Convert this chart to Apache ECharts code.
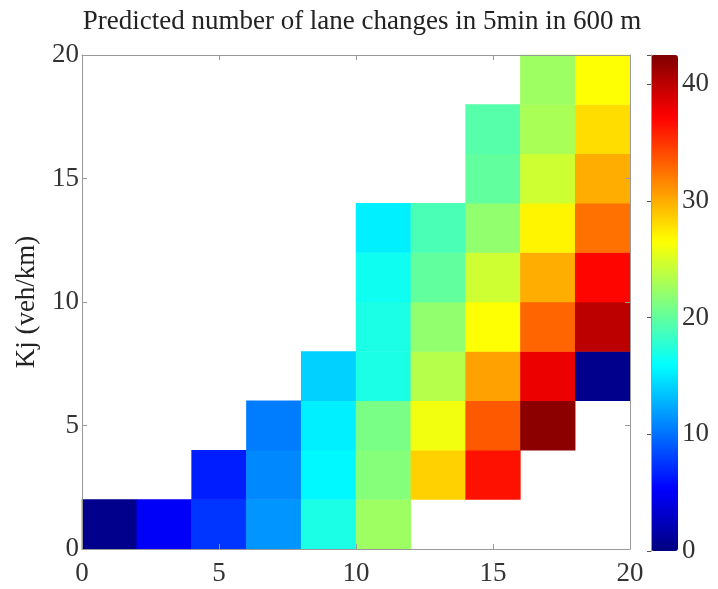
<!DOCTYPE html>
<html>
<head>
<meta charset="utf-8">
<script src="https://cdn.jsdelivr.net/npm/echarts@6/dist/echarts.min.js"></script>
<style>
  html, body { margin: 0; padding: 0; background: #fff; }
  #main { width: 718px; height: 589px; }
</style>
</head>
<body>
<div id="main"></div>
<script>
// bins of 2 units on each axis (0-2, 2-4, ... 18-20)
var xBins = ['0-2', '2-4', '4-6', '6-8', '8-10', '10-12', '12-14', '14-16', '16-18', '18-20'];
var yBins = ['0-2', '2-4', '4-6', '6-8', '8-10', '10-12', '12-14', '14-16', '16-18', '18-20'];

// predicted lane changes, one array per Kj row (bottom to top), null = empty
var row0 = [0.5, 5, 7.5, 11.5, 17, 22.5, null, null, null, null];
var row1 = [null, null, 6.5, 11, 15.7, 21.5, 28.5, 36.5, null, null];
var row2 = [null, null, null, 10.5, 15.3, 21, 26, 33.5, 42, null];
var row3 = [null, null, null, null, 14, 17, 23.5, 30.5, 38, 0.5];
var row4 = [null, null, null, null, null, 17, 22, 26.5, 33, 40];
var row5 = [null, null, null, null, null, 16.5, 20, 24.5, 30, 37];
var row6 = [null, null, null, null, null, 15.3, 19, 22, 27, 32.5];
var row7 = [null, null, null, null, null, null, null, 20, 24.5, 30];
var row8 = [null, null, null, null, null, null, null, 19.5, 23, 28];
var row9 = [null, null, null, null, null, null, null, null, 22.5, 26.5];
var rows = [row0, row1, row2, row3, row4, row5, row6, row7, row8, row9];

var axisTicks = [0, 5, 10, 15, 20];
var colorTicks = [0, 10, 20, 30, 40];
var colorMax = 42.5;

// matlab "jet"
var jet = ['#000080', '#0000ff', '#0080ff', '#00ffff', '#80ff80', '#ffff00', '#ff8000', '#ff0000', '#800000'];

var data = [];
rows.forEach(function (r, yi) {
  r.forEach(function (v, xi) {
    if (v !== null) data.push([xi, yi, v]);
  });
});

var font = 'Liberation Serif';
var lineStyle = { color: '#999', width: 1 };

function valAxis(pos, grid, showLabel, margin) {
  return {
    type: 'value', gridIndex: grid, position: pos,
    min: axisTicks[0], max: axisTicks[axisTicks.length - 1], interval: 5, z: 10,
    axisLine: { show: true, onZero: false, lineStyle: lineStyle },
    axisTick: { show: true, inside: true, length: 5, lineStyle: lineStyle },
    axisLabel: { show: showLabel, color: '#333', fontFamily: font, fontSize: 27, margin: margin || 3 },
    splitLine: { show: false }
  };
}

var chart = echarts.init(document.getElementById('main'));

var option = {
  backgroundColor: '#fff',
  animation: false,
  title: {
    text: 'Predicted number of lane changes in 5min in 600 m',
    left: 357, top: 3, textAlign: 'center',
    textStyle: { fontFamily: font, fontSize: 27, fontWeight: 'normal', color: '#222' }
  },
  grid: [
    { left: 82, top: 55, width: 548, height: 494 },
    { left: 651, top: 55, width: 27, height: 496 }
  ],
  xAxis: [
    { type: 'category', data: xBins, gridIndex: 0, show: false },
    valAxis('bottom', 0, true, 11),
    valAxis('top', 0, false),
    { type: 'value', gridIndex: 1, show: false, min: 0, max: 1 }
  ],
  yAxis: [
    { type: 'category', data: yBins, gridIndex: 0, show: false },
    Object.assign(valAxis('left', 0, true), {
      name: 'Kj (veh/km)', nameLocation: 'middle', nameGap: 42, nameRotate: 90,
      nameTextStyle: { fontFamily: font, fontSize: 27, color: '#222' }
    }),
    valAxis('right', 0, false),
    {
      type: 'value', gridIndex: 1, position: 'right', min: 0, max: colorMax, interval: 10, z: 10,
      axisLine: { show: true, lineStyle: lineStyle },
      axisTick: { show: true, inside: true, length: 4, lineStyle: { color: '#555' } },
      axisLabel: {
        color: '#333', fontFamily: font, fontSize: 27, margin: 4,
        formatter: function (v) { return colorTicks.indexOf(v) >= 0 ? v : ''; }
      },
      splitLine: { show: false }
    },
    {
      type: 'value', gridIndex: 1, position: 'left', min: 0, max: colorMax, z: 10,
      axisLine: { show: true, lineStyle: lineStyle },
      axisTick: { show: false }, axisLabel: { show: false }, splitLine: { show: false }
    }
  ],
  visualMap: {
    type: 'continuous', min: 0, max: colorMax, seriesIndex: 0,
    orient: 'vertical', left: 651, top: 55, padding: 0,
    itemWidth: 27, itemHeight: 496, calculable: false, hoverLink: false,
    showLabel: false, text: null,
    inRange: { color: jet }
  },
  series: [{
    type: 'heatmap', xAxisIndex: 0, yAxisIndex: 0,
    data: data,
    itemStyle: { borderWidth: 0 },
    emphasis: { disabled: true }
  }]
};

chart.setOption(option);
</script>
</body>
</html>
